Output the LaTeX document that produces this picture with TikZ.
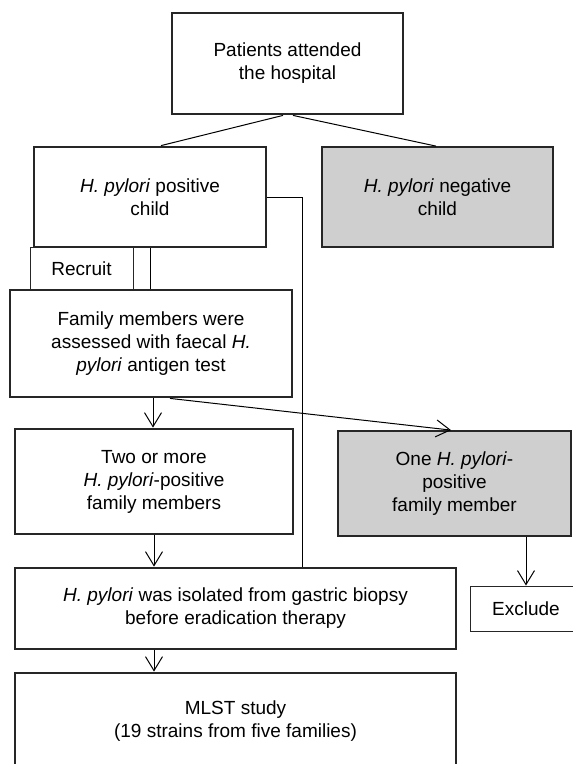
\documentclass[tikz,border=0pt]{standalone}
\usepackage{fontspec}
\setmainfont{Liberation Sans}
\usetikzlibrary{arrows.meta}
\newcommand{\hpy}{\textit{H. pylori}}
\begin{document}
\begin{tikzpicture}[x=1pt,y=-1pt,
  mainbox/.style={draw=black!85,line width=2.8pt,align=center,inner sep=0pt,
    font=\fontsize{19}{23}\selectfont},
  greybox/.style={mainbox,fill=black!19,line width=1.8pt},
  smallbox/.style={draw=black!85,line width=1pt,align=center,inner sep=0pt,
    font=\fontsize{19}{23}\selectfont},
  flow/.style={line width=1pt,-{Straight Barb[length=14pt,width=17pt]}}]
\useasboundingbox (0,0) rectangle (573,764);
\clip (0,0) rectangle (573,764);
\node[mainbox,minimum width=231,minimum height=101] (hosp) at (287.5,63.5) {Patients attended\\the hospital};
\node[mainbox,minimum width=232,minimum height=100] (pos) at (150,197) {\hpy{} positive\\child};
\node[greybox,minimum width=231,minimum height=100] (neg) at (437.5,197) {\hpy{} negative\\child};
\node[smallbox,minimum width=103,minimum height=43] (recruit) at (81.5,268.5) {Recruit};
\node[mainbox,minimum width=282,minimum height=107] (fam) at (151,343.5) {Family members were\\assessed with faecal \textit{H.}\\\textit{pylori} antigen test};
\node[mainbox,minimum width=278,minimum height=105] (two) at (154,481.5) {Two or more\\\hpy-positive\\family members};
\node[greybox,minimum width=233,minimum height=105] (one) at (454.5,483.5) {One \hpy-\\positive\\family member};
\node[mainbox,minimum width=441,minimum height=81] (iso) at (235.5,608.5) {\hpy{} was isolated from gastric biopsy\\before eradication therapy};
\node[smallbox,minimum width=112,minimum height=45] (excl) at (526,608.5) {Exclude};
\node[mainbox,minimum width=441,minimum height=97] (mlst) at (235.5,721.5) {MLST study\\(19 strains from five families)};
\coordinate (bend) at (302,197);
\draw[line width=1pt] ([xshift=-4.5pt]hosp.south) -- ([xshift=11pt]pos.north);
\draw[line width=1pt] ([xshift=5.5pt]hosp.south) -- ([xshift=-1.5pt]neg.north);
\draw[line width=1pt] (pos.south) -- (pos.south |- fam.north);
\draw[line width=1pt] (pos.east) -- (bend) -- (bend |- iso.north);
\draw[flow] ([xshift=2pt]fam.south) -- ([xshift=2pt]fam.south |- two.north);
\draw[flow] ([xshift=19pt]fam.south) -- ([xshift=-3.5pt]one.north);
\draw[flow] (two.south) -- (two.south |- iso.north);
\draw[flow] (iso.south -| two.south) -- (mlst.north -| two.south);
\draw[flow] (one.south -| excl.north) -- (excl.north);
\end{tikzpicture}
\end{document}
